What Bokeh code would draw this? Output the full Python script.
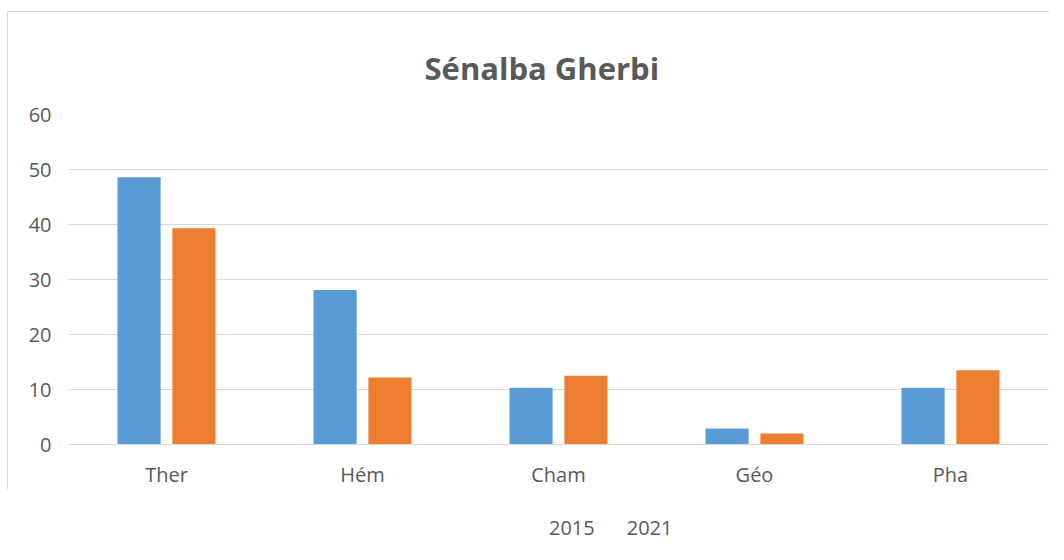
from bokeh.plotting import figure
from bokeh.layouts import column
from bokeh.models import ColumnDataSource, FactorRange, Range1d, Legend, LegendItem, FixedTicker
from bokeh.transform import dodge
from bokeh.embed import file_html
from bokeh.resources import INLINE

categories = ["Ther", "Hém", "Cham", "Géo", "Pha"]
series_names = ["2015", "2021"]
values_2015 = [48.6, 28.1, 10.3, 2.9, 10.3]
values_2021 = [39.3, 12.2, 12.5, 2.0, 13.5]
y_ticks = [0, 10, 20, 30, 40, 50, 60]

colors = ["#5B9BD5", "#ED7D31"]
text_color = "#595959"
grid_color = "#D9D9D9"
font = "Open Sans"

source = ColumnDataSource(data=dict(cat=categories, v2015=values_2015, v2021=values_2021))

p = figure(
    frame_width=979, frame_height=329,
    x_range=FactorRange(*categories, range_padding=0),
    y_range=Range1d(0, 60),
    output_backend="svg", toolbar_location=None,
    min_border_left=60, min_border_right=2, min_border_top=102, min_border_bottom=0,
)

p.vbar(x=dodge("cat", -0.14, range=p.x_range), top="v2015", width=0.22,
       source=source, color=colors[0], line_color=None)
p.vbar(x=dodge("cat", 0.14, range=p.x_range), top="v2021", width=0.22,
       source=source, color=colors[1], line_color=None)

p.title.text = "Sénalba Gherbi"
p.title.align = "left"
p.title.text_font = font
p.title.text_font_style = "bold"
p.title.text_font_size = "31px"
p.title.text_color = text_color
p.title.offset = 356
p.title.standoff = 51

p.outline_line_color = None
p.xgrid.grid_line_color = None
p.ygrid.grid_line_color = grid_color
p.ygrid.grid_line_width = 1.2
p.yaxis.ticker = FixedTicker(ticks=y_ticks)

for ax in (p.xaxis[0], p.yaxis[0]):
    ax.axis_line_color = None
    ax.major_tick_line_color = None
    ax.minor_tick_line_color = None
    ax.major_tick_in = 0
    ax.major_tick_out = 0
    ax.major_label_text_font = font
    ax.major_label_text_font_size = "20px"
    ax.major_label_text_color = text_color

p.xaxis.axis_line_color = grid_color
p.xaxis.axis_line_width = 1.2
p.yaxis.major_label_standoff = 17
p.xaxis.major_label_standoff = 16

p.styles = {"border-top": "1px solid #D9D9D9", "border-left": "1px solid #D9D9D9",
            "margin-left": "7px", "margin-top": "11px"}

# separate strip holding the legend, below the chart
p2 = figure(width=1041, height=64, x_range=Range1d(0, 1), y_range=Range1d(0, 1),
            x_axis_type=None, y_axis_type=None, output_backend="svg",
            toolbar_location=None, min_border=0)
p2.outline_line_color = None
p2.styles = {"margin-left": "7px"}
lr1 = p2.vbar(x=[], top=[], width=0.1, color=colors[0], line_color=None)
lr2 = p2.vbar(x=[], top=[], width=0.1, color=colors[1], line_color=None)

legend = Legend(
    items=[LegendItem(label=series_names[0], renderers=[lr1]),
           LegendItem(label=series_names[1], renderers=[lr2])],
    orientation="horizontal", location=(458, 12),
    label_text_font=font, label_text_font_size="20px", label_text_color=text_color,
    glyph_width=16, glyph_height=16, label_standoff=8, spacing=8,
    border_line_color=None, background_fill_alpha=0, margin=0, padding=0,
)
p2.add_layout(legend)

layout = column(p, p2, spacing=0)
open("out.html", "w").write(file_html(layout, INLINE))
